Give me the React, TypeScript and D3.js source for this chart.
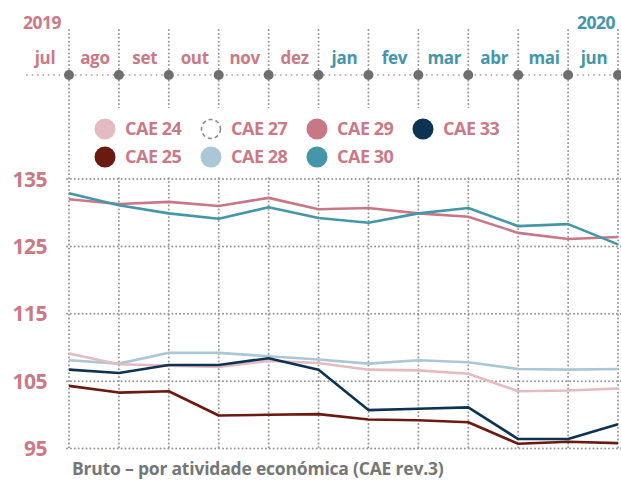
import React, { useEffect, useRef } from "react";
import * as d3 from "d3";

const months = ["jul", "ago", "set", "out", "nov", "dez", "jan", "fev", "mar", "abr", "mai", "jun"];
const yTicks = [95, 105, 115, 125, 135];

const cae24 = [109.1, 107.5, 107.3, 107.1, 108.0, 107.7, 106.7, 106.6, 106.1, 103.5, 103.6, 103.9];
const cae25 = [104.3, 103.3, 103.5, 99.9, 100.0, 100.1, 99.3, 99.2, 98.9, 95.7, 96.0, 95.8];
const cae28 = [108.1, 107.6, 109.2, 109.2, 108.7, 108.2, 107.6, 108.1, 107.8, 106.8, 106.7, 106.8];
const cae29 = [132.0, 131.3, 131.6, 131.0, 132.2, 130.5, 130.7, 129.9, 129.4, 127.0, 126.1, 126.4];
const cae30 = [132.9, 131.1, 129.9, 129.1, 130.8, 129.2, 128.5, 129.9, 130.7, 128.0, 128.3, 125.3];
const cae33 = [106.7, 106.2, 107.4, 107.4, 108.4, 106.7, 100.7, 100.9, 101.1, 96.4, 96.4, 98.6];

const legendItems = [
  { name: "CAE 24", color: "#e4bbc1", row: 0, col: 0 },
  { name: "CAE 27", color: "none", row: 0, col: 1 },
  { name: "CAE 29", color: "#c87884", row: 0, col: 2 },
  { name: "CAE 33", color: "#0c3452", row: 0, col: 3 },
  { name: "CAE 25", color: "#6a1a0f", row: 1, col: 0 },
  { name: "CAE 28", color: "#abc6d4", row: 1, col: 1 },
  { name: "CAE 30", color: "#4596ab", row: 1, col: 2 },
];

const series = [
  { name: "CAE 28", values: cae28, color: "#abc6d4" },
  { name: "CAE 24", values: cae24, color: "#e4bbc1" },
  { name: "CAE 25", values: cae25, color: "#6a1a0f" },
  { name: "CAE 33", values: cae33, color: "#0c3452" },
  { name: "CAE 29", values: cae29, color: "#c87884" },
  { name: "CAE 30", values: cae30, color: "#4596ab" },
];

const PINK = "#c97a86";
const TEAL = "#4596ab";
const FONT = "'Open Sans', sans-serif";

export default function App() {
  const ref = useRef<SVGSVGElement>(null);

  useEffect(() => {
    const svg = d3.select(ref.current);
    svg.selectAll("*").remove();

    const width = 621;
    const height = 480;
    const top = 30;
    const gridLeft = 67;

    const x = d3.scalePoint<string>().domain(months).range([69, 618]);
    const y = d3.scaleLinear().domain([95, 135]).range([448.5, 179]);

    svg.attr("width", width).attr("height", height);

    // vertical grid
    svg
      .append("g")
      .selectAll("line")
      .data(months)
      .join("line")
      .attr("x1", (d) => x(d)!)
      .attr("x2", (d) => x(d)!)
      .attr("y1", top)
      .attr("y2", y(95))
      .attr("stroke", "#959595")
      .attr("stroke-width", 2)
      .attr("stroke-linecap", "round")
      .attr("stroke-dasharray", "0 3.9");

    // legend background hides the grid
    svg
      .append("rect")
      .attr("x", 80)
      .attr("y", 108)
      .attr("width", 428)
      .attr("height", 69)
      .attr("fill", "white");

    // horizontal grid
    svg
      .append("g")
      .selectAll("line")
      .data(yTicks)
      .join("line")
      .attr("x1", gridLeft)
      .attr("x2", width)
      .attr("y1", (d) => y(d))
      .attr("y2", (d) => y(d))
      .attr("stroke", "#959595")
      .attr("stroke-width", 2)
      .attr("stroke-linecap", "round")
      .attr("stroke-dasharray", "0 3.9");

    // y labels
    svg
      .append("g")
      .selectAll("text")
      .data(yTicks)
      .join("text")
      .attr("x", 47)
      .attr("y", (d) => y(d))
      .attr("dy", "0.36em")
      .attr("text-anchor", "end")
      .attr("fill", PINK)
      .attr("font-family", FONT)
      .attr("font-weight", 700)
      .attr("font-size", "21px")
      .attr("letter-spacing", "-0.5px")
      .text((d) => d);

    // timeline
    svg
      .append("line")
      .attr("x1", 27)
      .attr("x2", width)
      .attr("y1", 75)
      .attr("y2", 75)
      .attr("stroke", "#dba3ac")
      .attr("stroke-width", 2)
      .attr("stroke-linecap", "round")
      .attr("stroke-dasharray", "0 5.4");

    svg
      .append("g")
      .selectAll("circle")
      .data(months)
      .join("circle")
      .attr("cx", (d) => x(d)!)
      .attr("cy", 75)
      .attr("r", 5)
      .attr("fill", "#6e6e6e");

    svg
      .append("g")
      .selectAll("text")
      .data(months)
      .join("text")
      .attr("x", (d) => x(d)! - 24)
      .attr("y", 64)
      .attr("text-anchor", "middle")
      .attr("fill", (d, i) => (i < 6 ? PINK : TEAL))
      .attr("font-family", FONT)
      .attr("font-weight", 700)
      .attr("font-size", "17px")
      .attr("letter-spacing", "-0.3px")
      .text((d) => d);

    svg
      .append("text")
      .attr("x", 23)
      .attr("y", 29)
      .attr("fill", PINK)
      .attr("font-family", FONT)
      .attr("font-weight", 700)
      .attr("font-size", "17.5px")
      .attr("letter-spacing", "-0.5px")
      .text("2019");

    svg
      .append("text")
      .attr("x", 615)
      .attr("y", 29)
      .attr("text-anchor", "end")
      .attr("fill", TEAL)
      .attr("font-family", FONT)
      .attr("font-weight", 700)
      .attr("font-size", "17.5px")
      .attr("letter-spacing", "-0.5px")
      .text("2020");

    // legend
    const lg = svg
      .append("g")
      .selectAll("g")
      .data(legendItems)
      .join("g")
      .attr("transform", (d) => `translate(${105 + d.col * 106},${129 + d.row * 28})`);

    lg.append("circle")
      .attr("r", (d) => (d.color === "none" ? 9.5 : 10.5))
      .attr("fill", (d) => d.color)
      .attr("stroke", (d) => (d.color === "none" ? "#8c8c8c" : "none"))
      .attr("stroke-width", 1.6)
      .attr("stroke-dasharray", "4 3");

    lg.append("text")
      .attr("x", 20)
      .attr("dy", "0.36em")
      .attr("fill", PINK)
      .attr("font-family", FONT)
      .attr("font-weight", 700)
      .attr("font-size", "18px")
      .attr("letter-spacing", "-0.5px")
      .text((d) => d.name);

    // lines
    const line = d3
      .line<number>()
      .x((d, i) => x(months[i])!)
      .y((d) => y(d));

    svg
      .append("g")
      .selectAll("path")
      .data(series)
      .join("path")
      .attr("d", (d) => line(d.values))
      .attr("fill", "none")
      .attr("stroke", (d) => d.color)
      .attr("stroke-width", 2.6)
      .attr("stroke-linejoin", "round");

    svg
      .append("text")
      .attr("x", 72)
      .attr("y", 475)
      .attr("fill", "#767676")
      .attr("font-family", FONT)
      .attr("font-weight", 700)
      .attr("font-size", "17.5px")
      .attr("letter-spacing", "-0.2px")
      .text("Bruto – por atividade económica (CAE rev.3)");
  }, []);

  return (
    <svg
      ref={ref}
      style={{ position: "absolute", left: 0, top: 0, display: "block" }}
    ></svg>
  );
}
